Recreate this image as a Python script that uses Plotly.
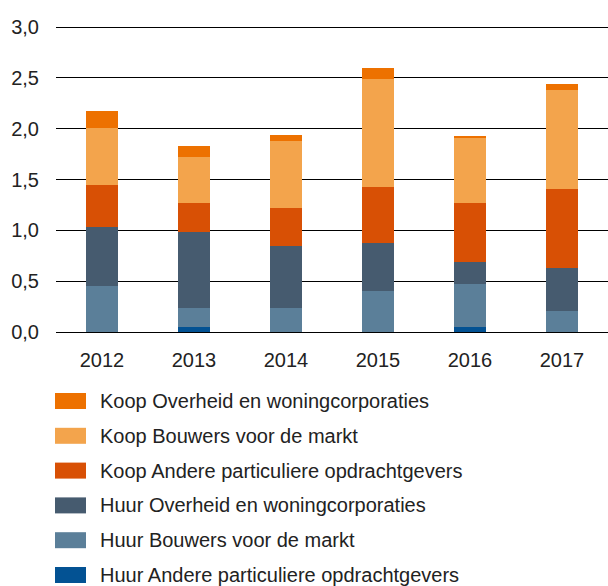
import plotly.graph_objects as go

years = ["2012", "2013", "2014", "2015", "2016", "2017"]

huur_andere = [0.00, 0.05, 0.00, 0.00, 0.05, 0.00]
huur_bouwers = [0.45, 0.19, 0.24, 0.40, 0.42, 0.21]
huur_overheid = [0.58, 0.74, 0.61, 0.48, 0.22, 0.42]
koop_andere = [0.42, 0.29, 0.37, 0.55, 0.58, 0.78]
koop_bouwers = [0.56, 0.45, 0.66, 1.06, 0.64, 0.97]
koop_overheid = [0.16, 0.11, 0.06, 0.11, 0.02, 0.06]

y_ticks = [0, 0.5, 1.0, 1.5, 2.0, 2.5, 3.0]
y_tick_labels = ["0,0", "0,5", "1,0", "1,5", "2,0", "2,5", "3,0"]

series = [
    ("Huur Andere particuliere opdrachtgevers", huur_andere, "#035293"),
    ("Huur Bouwers voor de markt", huur_bouwers, "#5b7f99"),
    ("Huur Overheid en woningcorporaties", huur_overheid, "#465b6f"),
    ("Koop Andere particuliere opdrachtgevers", koop_andere, "#d85005"),
    ("Koop Bouwers voor de markt", koop_bouwers, "#f3a44c"),
    ("Koop Overheid en woningcorporaties", koop_overheid, "#ed7100"),
]

FONT = "Liberation Sans"
TXT = "#222222"
FS = 20

W, H = 608, 586
ML, MR, MT, MB = 56, 0, 25, 254
YMAX = 3.0 + 2.0 / 101.67

fig = go.Figure()
for name, vals, color in series:
    fig.add_trace(go.Bar(x=years, y=vals, name=name,
                         marker=dict(color=color, line=dict(width=0)),
                         width=0.34, showlegend=False))

fig.update_layout(
    width=W, height=H,
    margin=dict(l=ML, r=MR, t=MT, b=MB),
    paper_bgcolor="white", plot_bgcolor="white",
    barmode="stack",
    font=dict(family=FONT, size=FS, color=TXT),
    xaxis=dict(showgrid=False, showline=False, zeroline=False, ticks="",
               tickfont=dict(size=FS, color=TXT), ticklabelstandoff=14),
    yaxis=dict(range=[0, YMAX], tickvals=y_ticks, ticktext=y_tick_labels,
               showgrid=True, gridcolor="#000000", gridwidth=1,
               zeroline=True, zerolinecolor="#000000", zerolinewidth=1,
               showline=False, ticks="", tickfont=dict(size=FS, color=TXT),
               ticklabelstandoff=16),
)

plot_h = H - MT - MB
plot_w = W - ML - MR
def py(ypix):
    return (H - MB - ypix) / plot_h
def px(xpix):
    return (xpix - ML) / plot_w

legend_items = list(reversed(series))
row_y0 = 401
row_step = 34.8
for i, (name, vals, color) in enumerate(legend_items):
    yc = row_y0 + i * row_step
    fig.add_shape(type="rect", xref="paper", yref="paper",
                  x0=px(55), x1=px(86), y0=py(yc + 8), y1=py(yc - 8),
                  line=dict(width=0), fillcolor=color)
    fig.add_annotation(xref="paper", yref="paper", x=px(98), y=py(yc),
                       text=name, showarrow=False, xanchor="left", yanchor="middle",
                       font=dict(family=FONT, size=FS, color=TXT))

fig.write_html("out.html", config={"displayModeBar": False},
               post_script="document.body.style.margin='0';document.body.style.padding='0';")
